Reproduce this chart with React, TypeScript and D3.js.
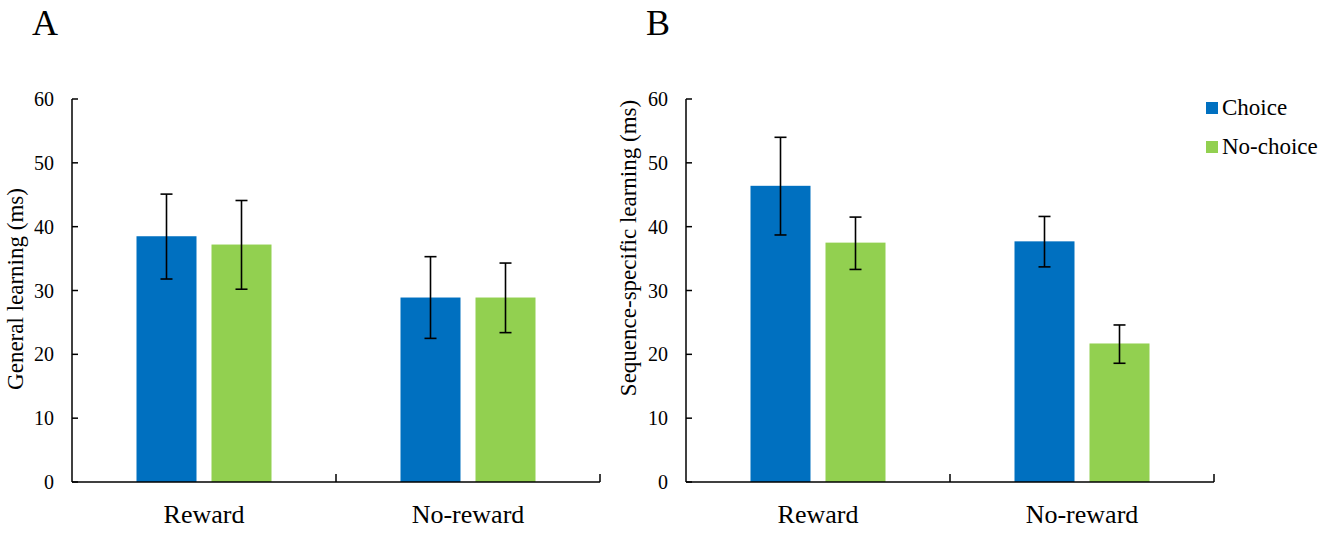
import React from "react";
import * as d3 from "d3";

const categories = ["Reward", "No-reward"];
const seriesNames = ["Choice", "No-choice"];
const seriesColors = ["#0070C0", "#92D050"];
const yTicks = [0, 10, 20, 30, 40, 50, 60];

// Panel A: General learning
const aChoice = [38.5, 28.9];
const aChoiceLow = [31.8, 22.5];
const aChoiceHigh = [45.1, 35.3];
const aNoChoice = [37.2, 28.9];
const aNoChoiceLow = [30.2, 23.4];
const aNoChoiceHigh = [44.1, 34.3];

// Panel B: Sequence-specific learning
const bChoice = [46.4, 37.7];
const bChoiceLow = [38.7, 33.7];
const bChoiceHigh = [54.0, 41.6];
const bNoChoice = [37.5, 21.7];
const bNoChoiceLow = [33.3, 18.6];
const bNoChoiceHigh = [41.5, 24.6];

const FONT = "Liberation Serif, DejaVu Serif, Times New Roman, serif";

type PanelProps = {
  x0: number;
  x1: number;
  label: string;
  yLabel: string;
  yLabelX: number;
  yLabelY: number;
  values: number[][];
  lows: number[][];
  highs: number[][];
};

const Y0 = 482;
const Y1 = 99;

function Panel({ x0, x1, label, yLabel, yLabelX, yLabelY, values, lows, highs }: PanelProps) {
  const x = d3.scaleBand<string>().domain(categories).range([x0, x1]).paddingInner(0).paddingOuter(0);
  const inner = d3
    .scaleBand<string>()
    .domain(seriesNames)
    .range([0, x.bandwidth()])
    .paddingInner(0.2)
    .paddingOuter(0.86);
  const y = d3.scaleLinear().domain([0, 60]).range([Y0, Y1]);
  const bw = inner.bandwidth();
  const cap = 6;
  return (
    <g>
      <text x={x0 - 40} y={35} style={{ fontFamily: FONT, fontSize: 36 }} fill="#000">
        {label}
      </text>
      {categories.map((c, ci) =>
        seriesNames.map((s, si) => {
          const bx = (x(c) as number) + (inner(s) as number);
          const v = values[si][ci];
          return (
            <rect
              key={c + s}
              x={bx}
              y={y(v)}
              width={bw}
              height={Y0 - y(v)}
              fill={seriesColors[si]}
            />
          );
        })
      )}
      {categories.map((c, ci) =>
        seriesNames.map((s, si) => {
          const cx = (x(c) as number) + (inner(s) as number) + bw / 2;
          const lo = y(lows[si][ci]);
          const hi = y(highs[si][ci]);
          return (
            <g key={"e" + c + s} stroke="#000" strokeWidth={1.6}>
              <line x1={cx} x2={cx} y1={lo} y2={hi} />
              <line x1={cx - cap} x2={cx + cap} y1={lo} y2={lo} />
              <line x1={cx - cap} x2={cx + cap} y1={hi} y2={hi} />
            </g>
          );
        })
      )}
      <line x1={x0} x2={x0} y1={Y1} y2={Y0} stroke="#000" strokeWidth={1.5} />
      {yTicks.map((t) => (
        <g key={"t" + t}>
          <line x1={x0} x2={x0 + 6} y1={y(t)} y2={y(t)} stroke="#000" strokeWidth={1.5} />
          <text
            x={x0 - 18}
            y={y(t)}
            textAnchor="end"
            dominantBaseline="central"
            style={{ fontFamily: FONT, fontSize: 20 }}
            fill="#000"
          >
            {t}
          </text>
        </g>
      ))}
      <line x1={x0} x2={x1} y1={Y0} y2={Y0} stroke="#000" strokeWidth={1.5} />
      {categories.map((c, ci) => {
        const right = (x(c) as number) + x.bandwidth();
        return (
          <line key={"xt" + ci} x1={right} x2={right} y1={Y0} y2={Y0 - 8} stroke="#000" strokeWidth={1.5} />
        );
      })}
      {categories.map((c) => (
        <text
          key={"xl" + c}
          x={(x(c) as number) + x.bandwidth() / 2}
          y={523}
          textAnchor="middle"
          style={{ fontFamily: FONT, fontSize: 26 }}
          fill="#000"
        >
          {c}
        </text>
      ))}
      <text
        transform={`translate(${yLabelX},${yLabelY}) rotate(-90)`}
        textAnchor="middle"
        dominantBaseline="central"
        style={{ fontFamily: FONT, fontSize: 23 }}
        fill="#000"
      >
        {yLabel}
      </text>
    </g>
  );
}

export default function App() {
  return (
    <svg
      width={1325}
      height={533}
      style={{ position: "absolute", left: 0, top: 0, background: "#fff" }}
    >
      <rect x={0} y={0} width={1325} height={533} fill="#fff" />
      <Panel
        x0={72}
        x1={600}
        label="A"
        yLabel="General learning (ms)"
        yLabelX={15}
        yLabelY={289}
        values={[aChoice, aNoChoice]}
        lows={[aChoiceLow, aNoChoiceLow]}
        highs={[aChoiceHigh, aNoChoiceHigh]}
      />
      <Panel
        x0={686}
        x1={1214}
        label="B"
        yLabel="Sequence-specific learning (ms)"
        yLabelX={628}
        yLabelY={248}
        values={[bChoice, bNoChoice]}
        lows={[bChoiceLow, bNoChoiceLow]}
        highs={[bChoiceHigh, bNoChoiceHigh]}
      />
      {seriesNames.map((s, i) => (
        <g key={"lg" + s}>
          <rect x={1206} y={102 + i * 39} width={12} height={12} fill={seriesColors[i]} />
          <text x={1222} y={115 + i * 39} style={{ fontFamily: FONT, fontSize: 23 }} fill="#000">
            {s}
          </text>
        </g>
      ))}
    </svg>
  );
}
